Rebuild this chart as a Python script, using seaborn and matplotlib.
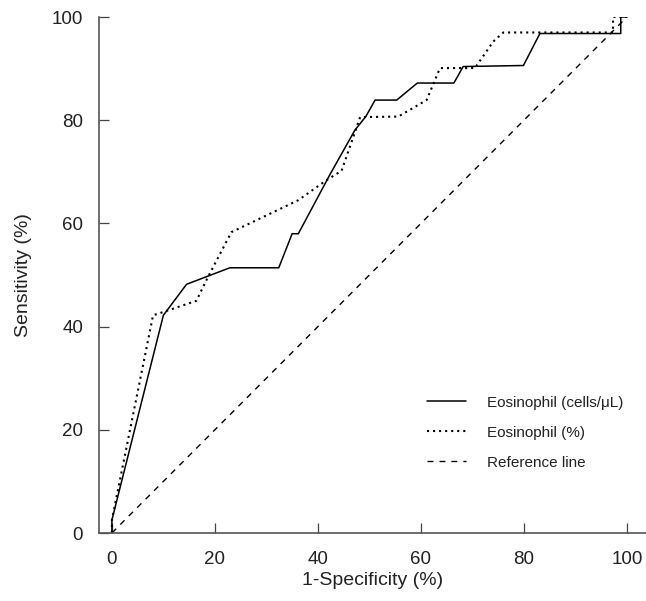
import matplotlib
matplotlib.use("Agg")
import matplotlib.pyplot as plt
import seaborn as sns
import pandas as pd

sns.set_style("white")
plt.rcParams["font.family"] = ["Liberation Sans", "DejaVu Sans"]

# Eosinophil (cells/μL)
cells_x = [0, 0, 10.0, 14.5, 22.9, 32.4, 35.0, 36.2, 42.3, 47.2, 49.3, 51.1, 55.3, 59.3, 66.4, 68.2, 79.9, 83.1, 98.8, 98.8, 100]
cells_y = [0, 2.5, 42.2, 48.2, 51.4, 51.4, 58.0, 58.0, 69.4, 78.1, 80.7, 83.9, 83.9, 87.2, 87.2, 90.4, 90.6, 96.8, 96.8, 100, 100]
# Eosinophil (%)
pct_x = [0, 0, 8.0, 9.3, 16.4, 18.7, 23.2, 25.5, 36.2, 41.7, 44.6, 48.2, 55.6, 61.1, 63.7, 70.5, 74.0, 76.0, 97.3, 97.3, 100]
pct_y = [0, 2.5, 42.2, 42.6, 45.0, 49.7, 58.3, 59.4, 64.5, 68.4, 70.2, 80.6, 80.7, 83.9, 90.1, 90.1, 95.2, 97.0, 97.0, 100, 100]
# Reference line
ref_x = [0, 100]
ref_y = [0, 100]

labels = ["Eosinophil (cells/μL)", "Eosinophil (%)", "Reference line"]
xticks = [0, 20, 40, 60, 80, 100]
yticks = [0, 20, 40, 60, 80, 100]

df = pd.concat([
    pd.DataFrame({"x": cells_x, "y": cells_y, "s": labels[0]}),
    pd.DataFrame({"x": pct_x, "y": pct_y, "s": labels[1]}),
    pd.DataFrame({"x": ref_x, "y": ref_y, "s": labels[2]}),
])

fig = plt.figure(figsize=(6.46, 6.01), dpi=100)
ax = fig.add_axes([99/646, 1 - 533/601, 1 - 99/646, (533 - 17)/601])

styles = {labels[0]: dict(ls="-", lw=1.1),
          labels[1]: dict(ls=(0, (1, 1.9)), lw=1.5),
          labels[2]: dict(ls=(0, (4.3, 4.3)), lw=1.0)}
for lab in labels:
    sub = df[df["s"] == lab]
    sns.lineplot(data=sub, x="x", y="y", sort=False, ax=ax, color="black",
                 label=lab, estimator=None, **styles[lab])

ax.set_xlim(-2.5, 103.7)
ax.set_ylim(0, 100)
ax.set_xticks(xticks)
ax.set_yticks(yticks)
ax.tick_params(axis="both", direction="in", length=7.5, width=0.9, color="#444444",
               labelsize=13.5, labelcolor="#222222", bottom=True, left=True)
ax.tick_params(axis="x", pad=13)
ax.tick_params(axis="y", pad=11.5)
for s in ["top", "right"]:
    ax.spines[s].set_visible(False)
for s in ["left", "bottom"]:
    ax.spines[s].set_color("#555555")
    ax.spines[s].set_linewidth(1.2)
ax.set_xlabel("1-Specificity (%)", fontsize=14, color="#222222", labelpad=3)
ax.set_ylabel("Sensitivity (%)", fontsize=14, color="#222222", labelpad=14)

leg = ax.legend(loc="upper left", bbox_to_anchor=(0.589, 0.278), frameon=False,
                fontsize=11, handlelength=2.55, handletextpad=1.37, labelspacing=1.05,
                borderaxespad=0)
for t in leg.get_texts():
    t.set_color("#222222")

fig.savefig("out.png", dpi=100)
